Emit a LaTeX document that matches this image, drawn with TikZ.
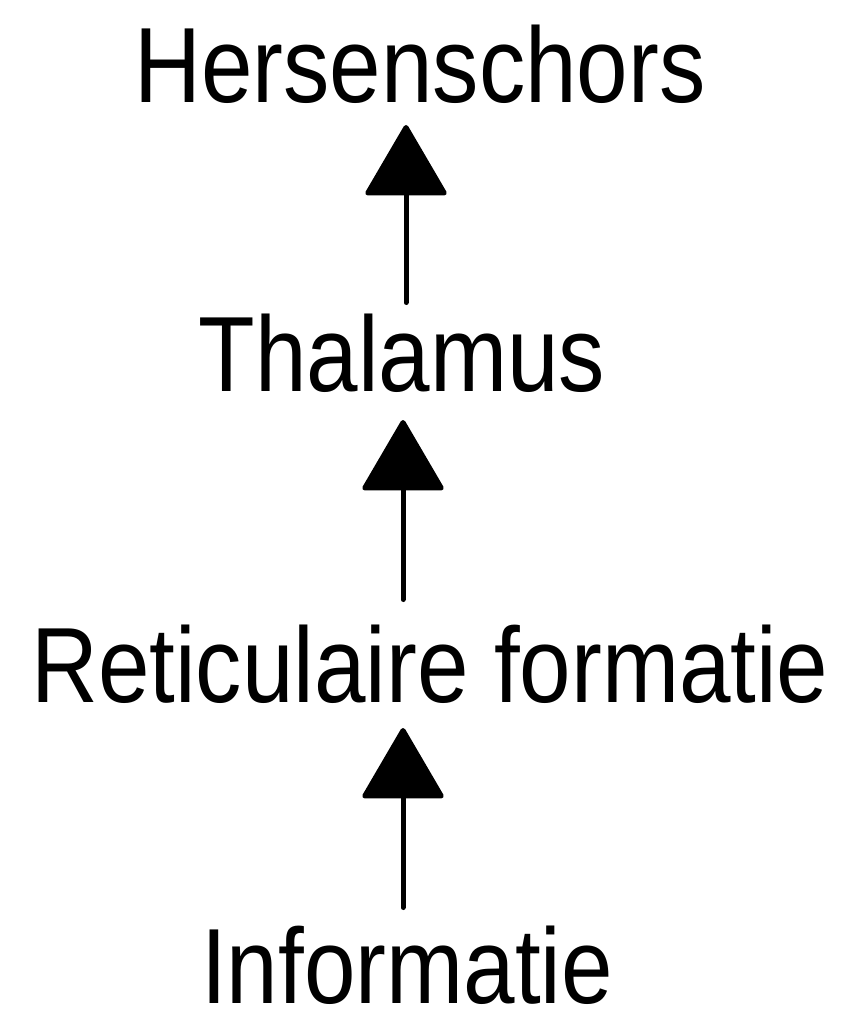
\documentclass[tikz,border=0pt]{standalone}
\usepackage{fontspec}
\newfontfamily\lblfont[FakeStretch=0.865]{Liberation Sans}
\usetikzlibrary{arrows.meta}
\begin{document}
\begin{tikzpicture}[x=1pt,y=-1pt,
  lbl/.style={anchor=base, inner sep=0pt, font=\lblfont\fontsize{107}{110}\selectfont},
  uparrow/.style={line width=5pt, line cap=round,
    -{Triangle[length=73pt,width=84pt,round]}}]
\useasboundingbox (0,0) rectangle (845,1011);
% levels, bottom to top
\node[lbl] (hers) at (420,103)  {Hersenschors};
\node[lbl] (thal) at (402,391)  {Thalamus};
\node[lbl] (ret)  at (430,702)  {Reticulaire formatie};
\node[lbl] (inf)  at (407,1003) {Informatie};
% upward arrows
\draw[uparrow] ([shift={(4,-88.5)}]thal.base) -- ([shift={(-14,22)}]hers.base);
\draw[uparrow] ([shift={(-27,-102.5)}]ret.base) -- ([shift={(1,29)}]thal.base);
\draw[uparrow] ([shift={(-4,-95.5)}]inf.base) -- ([shift={(-27,26)}]ret.base);
\end{tikzpicture}
\end{document}
